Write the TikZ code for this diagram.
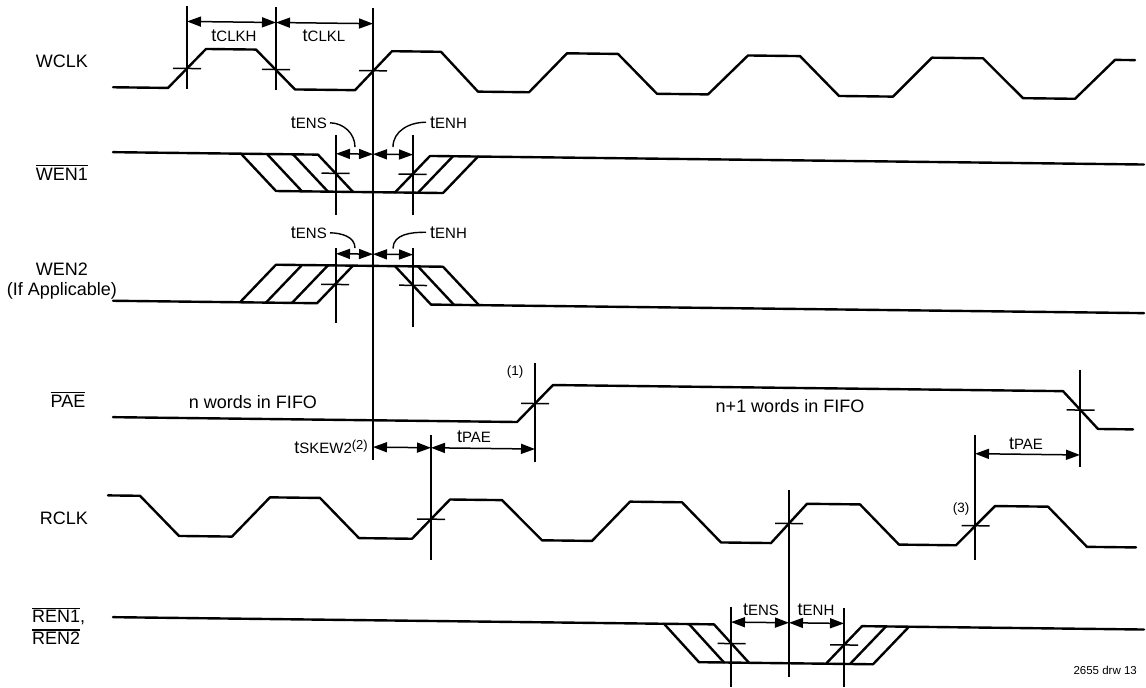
\documentclass[tikz,border=0pt]{standalone}
\usepackage{fontspec}
\setmainfont{Liberation Sans}
\usetikzlibrary{arrows.meta}
\newcommand\sigfont{\fontsize{18}{21}\selectfont}
\newcommand\tsub[1]{t{\fontsize{15}{17}\selectfont #1}}
\newcommand\barsig[1]{\leavevmode\vbox{\hrule height 1.2pt\kern1.6pt\hbox{#1}}}
\tikzset{
  wave/.style={line width=2.4pt, line join=round, line cap=round},
  refline/.style={line width=1.5pt},
  tickmark/.style={line width=1.5pt},
  dim/.style={{Triangle[length=14pt,width=10pt]}-{Triangle[length=14pt,width=10pt]}, line width=1.5pt},
  leader/.style={line width=1.4pt},
  siglabel/.style={font=\sigfont, inner sep=0pt, anchor=base},
  tlabel/.style={font=\sigfont, inner sep=0pt, anchor=base},
  note/.style={font=\fontsize{13.5}{15}\selectfont, inner sep=0pt, anchor=base}
}
\begin{document}
\begin{tikzpicture}[x=1pt,y=-1pt]
\useasboundingbox (0,0) rectangle (1146,688);
% the scan drifts downwards to the right
\begin{scope}[shift={(600,0)}, yslant=-0.012, shift={(-600,0)}]

% signal names
\node[siglabel] (wclk) at (62,73.5) {WCLK};
\node[siglabel] (wen1) at (62,186.5) {\barsig{WEN1}};
\node[siglabel] (wen2) at (62,281.5) {WEN2};
\node[siglabel] (ifapp) at (62,301.5) {(If Applicable)};
\node[siglabel] (pae) at (68,413.4) {\barsig{PAE}};
\node[siglabel] (rclk) at (64,530.5) {RCLK};
\node[siglabel, anchor=base west] (ren1) at (32,629.6) {\barsig{REN1},};
\node[siglabel, anchor=base west] (ren2) at (32,651.5) {\barsig{REN2}};

% WCLK
\def\sigH{53.7}\def\sigL{93.1}
\draw[wave] (113,\sigL) -- (168,\sigL) -- (206,\sigH) -- (256,\sigH) -- (295,\sigL)
  -- (355,\sigL) -- (392,\sigH) -- (441,\sigH) -- (478,\sigL) -- (529,\sigL)
  -- (567,\sigH) -- (618,\sigH) -- (657,\sigL) -- (708,\sigL) -- (748,\sigH)
  -- (800,\sigH) -- (839,\sigL) -- (893,\sigL) -- (932,\sigH) -- (983,\sigH)
  -- (1023,\sigL) -- (1075,\sigL) -- (1115,\sigH) -- (1135,\sigH);

% WEN1
\def\sigH{158}\def\sigL{194.9}
\draw[wave] (113,\sigH) -- (318,\sigH) -- (353,\sigL);
\foreach \x in {241,267,293} \draw[wave] (\x,\sigH) -- (\x+35,\sigL);
\draw[wave] (276,\sigL) -- (443,\sigL);
\foreach \x in {395,418,443} \draw[wave] (\x,\sigL) -- (\x+35,\sigH);
\draw[wave] (430,\sigH) -- (1144,\sigH);

% WEN2
\def\sigH{268.6}\def\sigL{306.6}
\draw[wave] (113,\sigL) -- (317,\sigL) -- (353,\sigH);
\foreach \x in {240,266,292} \draw[wave] (\x,\sigL) -- (\x+36,\sigH);
\draw[wave] (276,\sigH) -- (443,\sigH);
\foreach \x in {395,418,443} \draw[wave] (\x,\sigH) -- (\x+36,\sigL);
\draw[wave] (431,\sigL) -- (1144,\sigL);

% PAE
\def\sigH{385.6}\def\sigL{423}
\draw[wave] (113,\sigL) -- (517,\sigL) -- (553,\sigH) -- (1063,\sigH) -- (1098,\sigL) -- (1133,\sigL);

% RCLK
\def\sigH{501.3}\def\sigL{541}
\draw[wave] (108,\sigH) -- (140,\sigH) -- (179,\sigL) -- (232,\sigL) -- (270,\sigH)
  -- (320,\sigH) -- (359,\sigL) -- (412,\sigL) -- (450,\sigH) -- (502,\sigH)
  -- (542,\sigL) -- (592,\sigL) -- (630,\sigH) -- (682,\sigH) -- (721,\sigL)
  -- (771,\sigL) -- (807,\sigH) -- (860,\sigH) -- (899,\sigL) -- (956,\sigL)
  -- (995,\sigH) -- (1048,\sigH) -- (1087,\sigL) -- (1136,\sigL);

% REN1, REN2
\def\sigH{623}\def\sigL{661}
\draw[wave] (113,\sigH) -- (714,\sigH) -- (749,\sigL);
\foreach \x in {664,689} \draw[wave] (\x,\sigH) -- (\x+35,\sigL);
\draw[wave] (699,\sigL) -- (873,\sigL);
\foreach \x in {826,850,873} \draw[wave] (\x,\sigL) -- (\x+36,\sigH);
\draw[wave] (862,\sigH) -- (1144,\sigH);

% reference lines
\foreach \x/\ya/\yb in {187/10.9/93.9, 276/10.9/93.9, 373/10.7/462.7,
  336/138.2/218, 413/137.2/217, 336/251.2/326.2, 413/250.2/329.2,
  535/363.8/462.8, 1080/364.2/461.2, 431/437/562, 975/430.5/555.5,
  789/488/674.7, 731/605.4/685.4, 844/605.1/684.1}
  \draw[refline] (\x,\ya) -- (\x,\yb);

% crossing marks
\foreach \x/\y in {187/73.4, 276/73.4, 373/73.4, 335.5/176.5, 412.5/176.5,
  335/287.6, 413/287.6, 535/404.3, 1080.5/404.3, 431/521.2, 789/521.2,
  975.5/521.2, 731.5/642, 844/642}
  \draw[tickmark] (\x-14,\y) -- (\x+14,\y);

% timing arrows
\coordinate (ckA) at (187,26.4);
\coordinate (ckB) at (276,26.4);
\coordinate (ckC) at (373,26.4);
\draw[dim] (ckA) -- (ckB);
\draw[dim] (ckB) -- (ckC);
\node[tlabel] (tclkh) at (234,46.1) {\tsub{CLKH}};
\node[tlabel] (tclkl) at (324,45) {\tsub{CLKL}};

\coordinate (es1) at (336,156.9);
\coordinate (em1) at (373,156.9);
\coordinate (eh1) at (413,156.9);
\draw[dim] (es1) -- (em1);
\draw[dim] (em1) -- (eh1);
\node[tlabel, anchor=base east] (ens1) at (327,131.8) {\tsub{ENS}};
\node[tlabel, anchor=base west] (enh1) at (430,130.1) {\tsub{ENH}};
\coordinate (ens1end) at (355,150);
\coordinate (enh1end) at (393,149.5);
\draw[leader] ([xshift=3pt]ens1.east) to[out=0,in=90] (ens1end);
\draw[leader] ([xshift=-4pt]enh1.west) to[out=180,in=90] (enh1end);

\coordinate (es2) at (336,256.9);
\coordinate (em2) at (373,256.9);
\coordinate (eh2) at (413,256.9);
\draw[dim] (es2) -- (em2);
\draw[dim] (em2) -- (eh2);
\node[tlabel, anchor=base east] (ens2) at (327,241.8) {\tsub{ENS}};
\node[tlabel, anchor=base west] (enh2) at (430,240.1) {\tsub{ENH}};
\coordinate (ens2end) at (355,251);
\coordinate (enh2end) at (393,251);
\draw[leader] ([xshift=3pt]ens2.east) to[out=0,in=90] (ens2end);
\draw[leader] ([xshift=-4pt]enh2.west) to[out=180,in=90] (enh2end);

\node[siglabel] (nwords) at (253,412.5) {n words in FIFO};
\node[siglabel] (n1words) at (790,410) {n+1 words in FIFO};
\node[note] (fn1) at (515,377) {(1)};
\node[note] (fn3) at (961,508) {(3)};

\coordinate (skA) at (373,449.8);
\coordinate (skB) at (431,449.8);
\coordinate (skC) at (535,449.8);
\draw[dim] (skA) -- (skB);
\draw[dim] (skB) -- (skC);
\node[tlabel, anchor=base east] (tskew) at (368,455.9)
  {\tsub{SKEW2}\raisebox{4pt}{\fontsize{13}{15}\selectfont(2)}};
\node[tlabel] (tpae1) at (474,443.8) {\tsub{PAE}};

\coordinate (paA) at (975,449.2);
\coordinate (paB) at (1080,449.2);
\draw[dim] (paA) -- (paB);
\node[tlabel] (tpae2) at (1026,444.2) {\tsub{PAE}};

\coordinate (rs) at (731,620.5);
\coordinate (rm) at (789,620.5);
\coordinate (rh) at (844,620.5);
\draw[dim] (rs) -- (rm);
\draw[dim] (rm) -- (rh);
\node[tlabel] (rens) at (761,614) {\tsub{ENS}};
\node[tlabel] (renh) at (816,613) {\tsub{ENH}};

\node[note, font=\fontsize{11.5}{13}\selectfont, anchor=base east] (drw) at (1137,668) {2655 drw 13};
\end{scope}
\end{tikzpicture}
\end{document}
